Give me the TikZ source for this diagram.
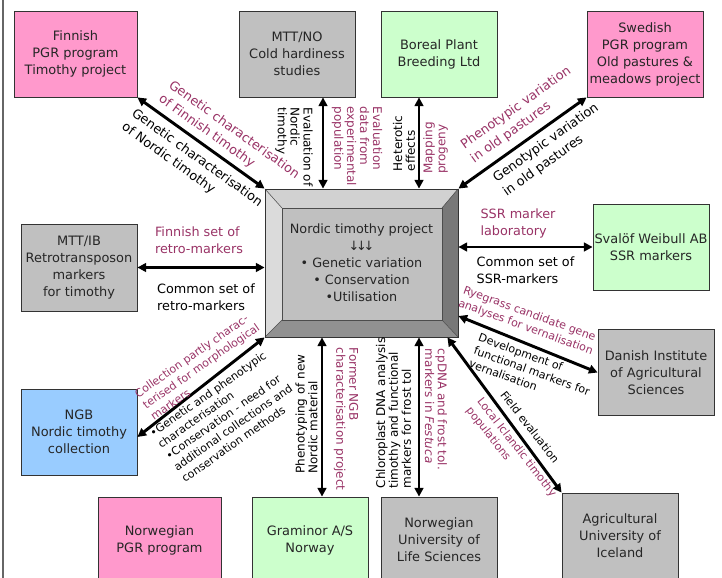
\documentclass[tikz,border=0pt]{standalone}
\usepackage{fontspec}
\setmainfont{DejaVu Sans}
\usepackage{xcolor}
\usepackage{tikz}
\usetikzlibrary{positioning, arrows.meta}

\definecolor{pgrpink}{HTML}{FF99CC}
\definecolor{labgrey}{HTML}{C0C0C0}
\definecolor{firmgreen}{HTML}{CCFFCC}
\definecolor{genblue}{HTML}{99CCFF}
\definecolor{notepink}{HTML}{993366}

\begin{document}
\begin{tikzpicture}[
				% pixel grid of the slide, y pointing down
				x=0.75pt, y=-0.75pt,
				box/.style={
					rectangle, 
					draw=black!80, 
					line width=0.6pt,
					align=center, 
					minimum height=64.5pt, 
					minimum width=87pt, 
					inner sep=1pt,
					text=black!85,
					font=\fontsize{9.7}{12.75}\selectfont
				},
				pinkbox/.style={box, fill=pgrpink},
				greybox/.style={box, fill=labgrey},
				greenbox/.style={box, fill=firmgreen},
				bluebox/.style={box, fill=genblue},
				hub/.style={
					rectangle, 
					draw=black!80, 
					line width=0.6pt,
					align=center, 
					minimum width=144.75pt, 
					minimum height=111pt,
					text=black!85,
					font=\fontsize{9.6}{12.75}\selectfont
				},
				note/.style={align=left, inner sep=0pt, font=\fontsize{9.6}{12.75}\selectfont},
				pinknote/.style={note, text=notepink},
				smallnote/.style={align=left, inner sep=0pt, font=\fontsize{8.3}{10.4}\selectfont},
				vnote/.style={align=left, inner sep=0pt, font=\fontsize{9}{9.7}\selectfont},
				link/.style={{Triangle[length=6.5pt,width=6.5pt]}-{Triangle[length=6.5pt,width=6.5pt]}, line width=2.2pt}
				]
				
				\useasboundingbox (0,0) rectangle (722,578);
				\draw[black!60, line width=0.8pt] (3,0) -- (3,578);
				
				% --- 1. Centre (bevelled box) ---
				\fill[black!18] (265,189) -- (458,189) -- (442,208) -- (282,208) -- cycle;
				\fill[black!14] (265,189) -- (282,208) -- (282,320) -- (265,337) -- cycle;
				\fill[black!53] (458,189) -- (458,337) -- (442,320) -- (442,208) -- cycle;
				\fill[black!43] (265,337) -- (458,337) -- (442,320) -- (282,320) -- cycle;
				\filldraw[fill=labgrey, draw=black!70, line width=0.4pt] (282,208) rectangle (442,320);
				\draw[black!70, line width=0.4pt] (265,189) -- (282,208) (458,189) -- (442,208) (458,337) -- (442,320) (265,337) -- (282,320);
				\node[hub] (hub) at (361.5,263) {Nordic timothy project\\↓\kern-2.5pt↓\kern-2.5pt↓\\• Genetic variation\\• Conservation\\•Utilisation};
				
				% --- 2. Top Row ---
				\node[pinkbox, minimum width=92.25pt] (finpgr) at (75.5,54) {Finnish\\PGR program\\Timothy project};
				\node[greybox] (mttno) at (297,54) {MTT/NO\\Cold hardiness\\studies};
				\node[greenbox] (boreal) at (439,54) {Boreal Plant\\Breeding Ltd};
				\node[pinkbox] (swepgr) at (645,54) {Swedish\\PGR program\\Old pastures \&\\meadows project};
				
				% --- 3. Sides ---
				\node[greybox, minimum height=65.25pt] (mttib) at (79,267.5) {MTT/IB\\Retrotransposon\\markers\\for timothy};
				\node[greenbox] (svalof) at (651,247) {Svalöf Weibull AB\\SSR markers};
				\node[greybox] (danish) at (656,372.5) {Danish Institute\\of Agricultural\\Sciences};
				\node[bluebox] (ngb) at (79,432) {NGB\\Nordic timothy\\collection};
				
				% --- 4. Bottom Row ---
				\node[pinkbox, minimum width=92.25pt] (norpgr) at (159.5,540) {Norwegian\\PGR program};
				\node[greenbox] (graminor) at (310,540) {Graminor A/S\\Norway};
				\node[greybox] (umb) at (439,540) {Norwegian\\University of\\Life Sciences};
				\node[greybox] (lbhi) at (620,536) {Agricultural\\University of\\Iceland};
				
				% --- 5. Connectors ---
				\coordinate (mttnofoot) at ([xshift=19.5pt]mttno.south);
				\coordinate (borealfoot) at ([xshift=-15pt]boreal.south);
				\coordinate (graminortop) at ([xshift=9pt]graminor.north);
				\coordinate (umbtop) at ([xshift=-15pt]umb.north);
				
				\draw[link] (finpgr.south east) -- (hub.north west);
				\draw[link] (mttnofoot) -- (mttnofoot |- hub.north);
				\draw[link] (borealfoot) -- (borealfoot |- hub.north);
				\draw[link] (swepgr.south west) -- (hub.north east);
				\draw[link] (mttib.east) -- (mttib.east -| hub.west);
				\draw[link] (svalof.west) -- (svalof.west -| hub.east);
				\draw[link] ([yshift=-39.75pt]hub.east) -- (danish.west);
				\draw[link] ([yshift=-3.75pt]ngb.east) -- (hub.south west);
				\draw[link] (graminortop |- hub.south) -- (graminortop);
				\draw[link] (umbtop |- hub.south) -- (umbtop);
				\draw[link] ([xshift=-8.25pt]hub.south east) -- (lbhi.north west);
				
				% --- 6. Labels on the connectors ---
				% Finnish PGR
				\node[pinknote, rotate=-35.7] (finA) at (229,137) {Genetic characterisation\\of Finnish timothy};
				\node[note, rotate=-35.7] (finB) at (192,165) {Genetic characterisation\\of Nordic timothy};
				% MTT/NO
				\node[vnote, rotate=-90] (mttnoA) at (294,147) {Evaluation of\\Nordic\\timothy};
				\node[vnote, text=notepink, rotate=-90] (mttnoB) at (357,146.5) {Evaluation\\data from\\experimental\\population};
				% Boreal
				\node[vnote, rotate=90] (borealA) at (404,143.5) {Heterotic\\effects};
				\node[vnote, text=notepink, rotate=90] (borealB) at (435.5,148) {Mapping\\progeny};
				% Swedish PGR
				\node[pinknote, rotate=35.5] (sweA) at (521,115) {Phenotypic variation\\in old pastures};
				\node[note, rotate=35.5] (sweB) at (551,150) {Genotypic variation\\in old pastures};
				% MTT/IB
				\node[pinknote] (mttibA) at (199,240.5) {Finnish set of\\retro-markers};
				\node[note] (mttibB) at (206,297.5) {Common set of\\retro-markers};
				% Svalof
				\node[pinknote] (svalofA) at (518,223.5) {SSR marker\\laboratory};
				\node[note] (svalofB) at (525.5,270.5) {Common set of\\SSR-markers};
				% Danish
				\node[smallnote, text=notepink, rotate=-20] (danA) at (528,321) {Ryegrass candidate gene\\analyses for vernalisation};
				\node[smallnote, rotate=-20] (danB) at (532,371) {Development of\\functional markers for\\vernalisation};
				% NGB
				\node[smallnote, text=notepink, rotate=35] (ngbA) at (201,366) {Collection partly charac-\\terised for morphological\\markers};
				\node[smallnote, rotate=35] (ngbB) at (225,416) {•Genetic and phenotypic\\characterisation\\•Conservation - need for\\additional collections and\\conservation methods};
				% Graminor
				\node[vnote, rotate=90] (gramA) at (306.5,414) {Phenotyping of new\\Nordic material};
				\node[vnote, text=notepink, rotate=-90] (gramB) at (346,419) {Former NGB\\characterisation project};
				% Norwegian University
				\node[vnote, rotate=90] (umbA) at (393.5,413) {Chloroplast DNA analysis\\timothy and functional\\markers for frost tol};
				\node[vnote, text=notepink, rotate=-90] (umbB) at (436,409.5) {cpDNA and frost tol.\\markers in \textit{Festuca}};
				% Iceland
				\node[smallnote, rotate=-52] (iceA) at (530,427) {Field evaluation};
				\node[smallnote, text=notepink, rotate=-52] (iceB) at (511,452) {Local Iclandic timothy\\populations};
				
			\end{tikzpicture}
\end{document}
